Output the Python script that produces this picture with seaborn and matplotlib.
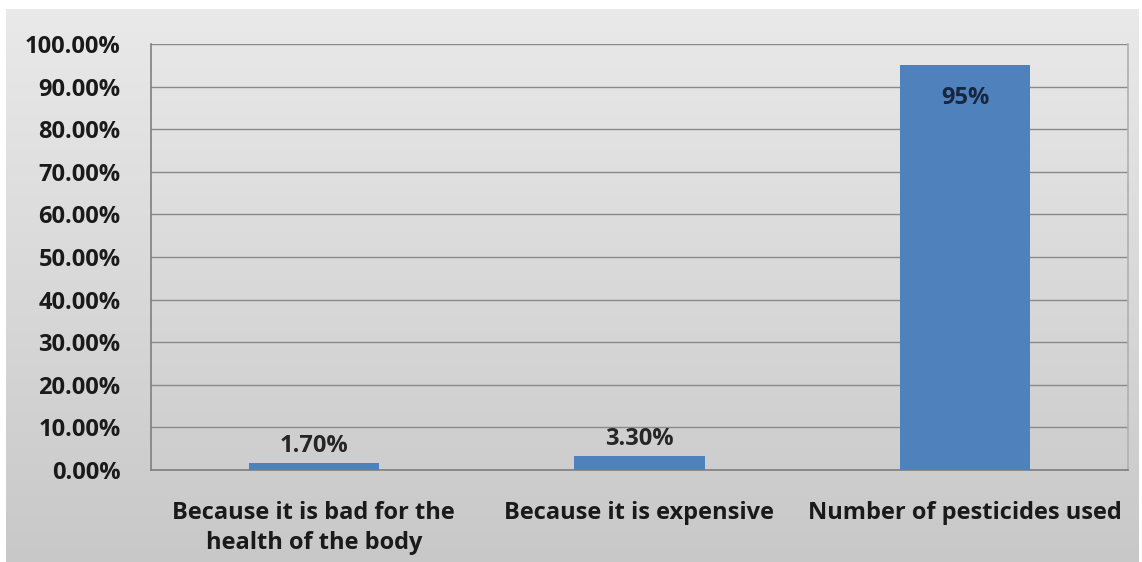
import numpy as np
import pandas as pd
import matplotlib
matplotlib.use("Agg")
import matplotlib.pyplot as plt
import seaborn as sns
from matplotlib.ticker import MultipleLocator, FuncFormatter

categories = ["Because it is bad for the\nhealth of the body",
              "Because it is expensive",
              "Number of pesticides used"]
values = [0.017, 0.033, 0.95]
value_labels = ["1.70%", "3.30%", "95%"]

sns.set_style("white")
plt.rcParams['font.family'] = ['Open Sans', 'DejaVu Sans']

W, H = 1142, 562
fig = plt.figure(figsize=(W / 100, H / 100), dpi=100)
fig.patch.set_facecolor("white")

# background gradient panel (light top, darker bottom)
bg = fig.add_axes([6 / W, 0, (W - 9) / W, (H - 9) / H], zorder=-5)
grad = np.linspace(0.915, 0.785, 200)[:, None] * np.ones((1, 2))
bg.imshow(np.dstack([grad, grad, grad]), aspect="auto", extent=[0, 1, 0, 1],
          interpolation="bilinear")
bg.set_axis_off()

ax = fig.add_axes([151 / W, 1 - 470 / H, (1128 - 151) / W, (470 - 44) / H], zorder=2)
ax.patch.set_alpha(0)

df = pd.DataFrame({"cat": categories, "val": values})
sns.barplot(data=df, x="cat", y="val", color="#4F81BD", saturation=1,
            width=0.4, ax=ax, zorder=3, edgecolor="none", linewidth=0)

ax.set_ylim(0, 1.0)
ax.set_xlim(-0.5, 2.5)
ax.yaxis.set_major_locator(MultipleLocator(0.1))
ax.yaxis.set_major_formatter(FuncFormatter(lambda v, p: f"{v*100:.2f}%"))
ax.grid(axis="y", color="#8a8a8a", linewidth=1.0, zorder=0)
ax.set_axisbelow(True)
ax.set_xlabel("")
ax.set_ylabel("")

for s in ["left", "bottom"]:
    ax.spines[s].set_visible(True)
    ax.spines[s].set_color("#7f7f7f")
    ax.spines[s].set_linewidth(1.2)
ax.spines["top"].set_visible(False)
ax.spines["right"].set_visible(True)
ax.spines["right"].set_color("#b0b0b0")
ax.spines["right"].set_linewidth(1.2)

FS = 17
ax.tick_params(axis="y", length=8, width=1, color="#7f7f7f", pad=14,
               labelsize=FS, labelcolor="#1a1a1a")
ax.set_xticks([-0.5, 0.5, 1.5, 2.5], minor=True)
ax.tick_params(axis="x", which="major", length=0, pad=22,
               labelsize=FS, labelcolor="#1a1a1a")
ax.tick_params(axis="x", which="minor", length=8, width=1, color="#8a8a8a")
for lab in ax.get_xticklabels() + ax.get_yticklabels():
    lab.set_fontweight("bold")
for lab in ax.get_xticklabels():
    lab.set_linespacing(1.38)
    lab.set_verticalalignment("top")

for i, (v, t) in enumerate(zip(values, value_labels)):
    if v > 0.5:
        ax.annotate(t, (i, v), xytext=(0, -33), textcoords="offset pixels",
                    ha="center", va="center", fontsize=FS, fontweight="bold",
                    color="#17263f", zorder=5)
    else:
        ax.annotate(t, (i, v), xytext=(0, 5), textcoords="offset pixels",
                    ha="center", va="bottom", fontsize=FS, fontweight="bold",
                    color="#262626", zorder=5)

fig.savefig("out.png", dpi=100, facecolor=fig.get_facecolor())
